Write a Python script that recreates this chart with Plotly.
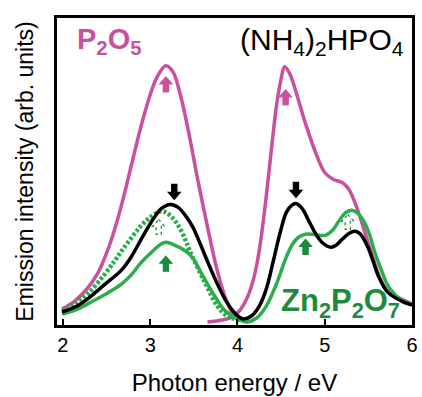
import numpy as np
import plotly.graph_objects as go

# ---- spectra (photon energy in eV, intensity in arb. units) ----
p2o5_a_x = [1.99, 2.135, 2.282, 2.40, 2.50, 2.60, 2.70, 2.80, 2.90, 3.00, 3.08,
            3.18, 3.26, 3.34, 3.43, 3.54, 3.66, 3.77, 3.88, 3.97, 4.02]
p2o5_a_y = [0.16, 0.24, 0.37, 0.52, 0.72, 0.98, 1.30, 1.66, 2.01, 2.31, 2.49,
            2.60, 2.54, 2.33, 1.98, 1.48, 0.97, 0.54, 0.23, 0.08, 0.04]

p2o5_b_x = [3.656, 3.825, 3.94, 4.03, 4.11, 4.19, 4.25, 4.30, 4.35, 4.40, 4.45,
            4.50, 4.54, 4.60, 4.67, 4.78, 4.90, 5.00, 5.10, 5.20, 5.27, 5.35,
            5.46, 5.57, 5.65, 5.72, 5.80, 5.88, 6.0]
p2o5_b_y = [0.03, 0.05, 0.08, 0.15, 0.27, 0.48, 0.75, 1.07, 1.45, 1.85, 2.22,
            2.47, 2.59, 2.52, 2.34, 2.02, 1.72, 1.53, 1.46, 1.43, 1.37, 1.22,
            0.93, 0.63, 0.44, 0.34, 0.29, 0.26, 0.21]

nh4_x = [1.99, 2.14, 2.28, 2.47, 2.67, 2.78, 2.89, 3.04, 3.13, 3.23, 3.32,
         3.41, 3.49, 3.58, 3.67, 3.76, 3.85, 3.94, 4.02, 4.07, 4.16, 4.25,
         4.33, 4.41, 4.49, 4.56, 4.62, 4.67, 4.74, 4.82, 4.90, 4.98, 5.07,
         5.13, 5.20, 5.28, 5.35, 5.41, 5.49, 5.55, 5.61, 5.72, 5.88, 6.0]
nh4_y = [0.13, 0.18, 0.26, 0.40, 0.55, 0.68, 0.85, 1.07, 1.17, 1.21, 1.18,
         1.09, 0.98, 0.80, 0.61, 0.43, 0.27, 0.15, 0.08, 0.06, 0.09, 0.19,
         0.36, 0.64, 0.93, 1.13, 1.20, 1.22, 1.17, 1.04, 0.91, 0.82, 0.78,
         0.80, 0.86, 0.92, 0.94, 0.91, 0.79, 0.65, 0.50, 0.33, 0.24, 0.20]

zn_x = [1.99, 2.14, 2.28, 2.47, 2.67, 2.78, 2.89, 3.04, 3.12, 3.18, 3.26,
        3.41, 3.49, 3.58, 3.67, 3.76, 3.85, 3.94, 4.02, 4.11, 4.22, 4.33,
        4.45, 4.55, 4.63, 4.70, 4.78, 4.86, 4.94, 5.01, 5.09, 5.16, 5.23,
        5.31, 5.38, 5.46, 5.52, 5.57, 5.65, 5.72, 5.80, 5.88, 5.99]
zn_y = [0.11, 0.15, 0.21, 0.30, 0.41, 0.50, 0.62, 0.75, 0.81, 0.83, 0.81,
        0.74, 0.67, 0.53, 0.39, 0.26, 0.15, 0.09, 0.05, 0.03, 0.07, 0.19,
        0.42, 0.66, 0.81, 0.88, 0.91, 0.91, 0.90, 0.90, 0.95, 1.04, 1.12,
        1.15, 1.12, 1.02, 0.89, 0.74, 0.55, 0.40, 0.31, 0.25, 0.21]

zn_dot_x = [1.99, 2.14, 2.28, 2.47, 2.59, 2.67, 2.78, 2.89, 3.00, 3.12,
            3.18, 3.26, 3.34, 3.41, 3.45, 3.62, 3.77, 3.88, 3.96]
zn_dot_y = [0.14, 0.21, 0.31, 0.50, 0.64, 0.74, 0.87, 0.99, 1.08, 1.14,
            1.13, 1.07, 0.97, 0.84, 0.75, 0.44, 0.19, 0.09, 0.06]

x_ticks = [2, 3, 4, 5, 6]

MAGENTA = "#C8509E"
GREEN = "#2BAE4A"
DKGREEN = "#1E8A3C"
FONT = "Liberation Sans, Arial, sans-serif"

fig = go.Figure()


def add_line(x, y, color, dash="solid", width=3.5):
    fig.add_trace(go.Scatter(x=x, y=y, mode="lines", hoverinfo="skip",
                             line=dict(color=color, width=width, dash=dash,
                                       shape="spline", smoothing=1.0)))


add_line(p2o5_a_x, p2o5_a_y, MAGENTA)
add_line(p2o5_b_x, p2o5_b_y, MAGENTA)
add_line(zn_dot_x, zn_dot_y, GREEN, dash="3px,2px", width=4.5)
add_line(zn_x, zn_y, GREEN)
add_line(nh4_x, nh4_y, "black")


def peak(x, y, lo, hi):
    xa, ya = np.asarray(x), np.asarray(y)
    m = (xa >= lo) & (xa <= hi)
    i = np.argmax(np.where(m, ya, -np.inf))
    return float(xa[i]), float(ya[i])


def arrow(x, y, up, color, dx=0, dy=0, filled=True):
    # block arrow drawn in pixels around a data anchor; tip at (dx, dy)
    s = 1 if up else -1
    pts = [(0, 0), (6, -7), (2.6, -7), (2.6, -15), (-2.6, -15), (-2.6, -7), (-6, -7)]
    path = "M " + " L ".join(f"{dx + px},{dy + s * py}" for px, py in pts) + " Z"
    fig.add_shape(type="path", xref="x", yref="y", xsizemode="pixel", ysizemode="pixel",
                  xanchor=x, yanchor=y, path=path,
                  fillcolor=color if filled else "white",
                  line=dict(color=color, width=1.2 if filled else 1.3,
                            dash="solid" if filled else "dot"))


# markers on the spectral maxima
for xs, ys, lo, hi, up, col, dx, dy, fill in [
    (p2o5_a_x, p2o5_a_y, 2.5, 3.7, True, MAGENTA, 0, -11, True),
    (p2o5_b_x, p2o5_b_y, 4.2, 5.0, True, MAGENTA, 1, -23, True),
    (nh4_x, nh4_y, 2.5, 3.7, False, "black", 4, 5, True),
    (nh4_x, nh4_y, 4.2, 5.0, False, "black", 0, 6, True),
    (zn_x, zn_y, 2.5, 3.7, True, DKGREEN, 0, -14, True),
    (zn_x, zn_y, 4.6, 4.9, True, DKGREEN, 0, -5, True),
    (zn_dot_x, zn_dot_y, 2.5, 3.7, True, DKGREEN, -2, -8, False),
    (zn_x, zn_y, 5.1, 5.5, True, DKGREEN, -4, -4, False),
]:
    px_, py_ = peak(xs, ys, lo, hi)
    arrow(px_, py_, up, col, dx, dy, fill)

fig.add_annotation(xref="paper", yref="paper", x=0.05, y=0.925, xanchor="left", yanchor="middle",
                   text="<b>P<sub>2</sub>O<sub>5</sub></b>", showarrow=False,
                   font=dict(family=FONT, size=29, color=MAGENTA))
fig.add_annotation(xref="paper", yref="paper", x=0.982, y=0.922, xanchor="right", yanchor="middle",
                   text="(NH<sub>4</sub>)<sub>2</sub>HPO<sub>4</sub>", showarrow=False,
                   font=dict(family=FONT, size=30, color="black"))
fig.add_annotation(xref="paper", yref="paper", x=0.625, y=0.072, xanchor="left", yanchor="middle",
                   text="<b>Zn<sub>2</sub>P<sub>2</sub>O<sub>7</sub></b>", showarrow=False,
                   font=dict(family=FONT, size=31, color=DKGREEN))

fig.update_layout(
    width=422, height=397,
    margin=dict(l=57, r=4, t=18, b=71),
    paper_bgcolor="white", plot_bgcolor="white",
    showlegend=False,
    font=dict(family=FONT, color="black"),
)
fig.update_xaxes(range=[1.932, 6.0], tickvals=x_ticks, ticks="inside", ticklen=6, tickwidth=2,
                 tickcolor="black", showline=True, linecolor="black", linewidth=3, mirror=True,
                 showgrid=False, zeroline=False, tickfont=dict(size=20),
                 title=dict(text="Photon energy / eV", font=dict(size=24), standoff=20))
fig.update_yaxes(range=[0, 3.08], showticklabels=False, ticks="", showline=True,
                 linecolor="black", linewidth=3, mirror=True, showgrid=False, zeroline=False,
                 title=dict(text="Emission intensity (arb. units)", font=dict(size=23), standoff=14))

fig.write_html("out.html")
